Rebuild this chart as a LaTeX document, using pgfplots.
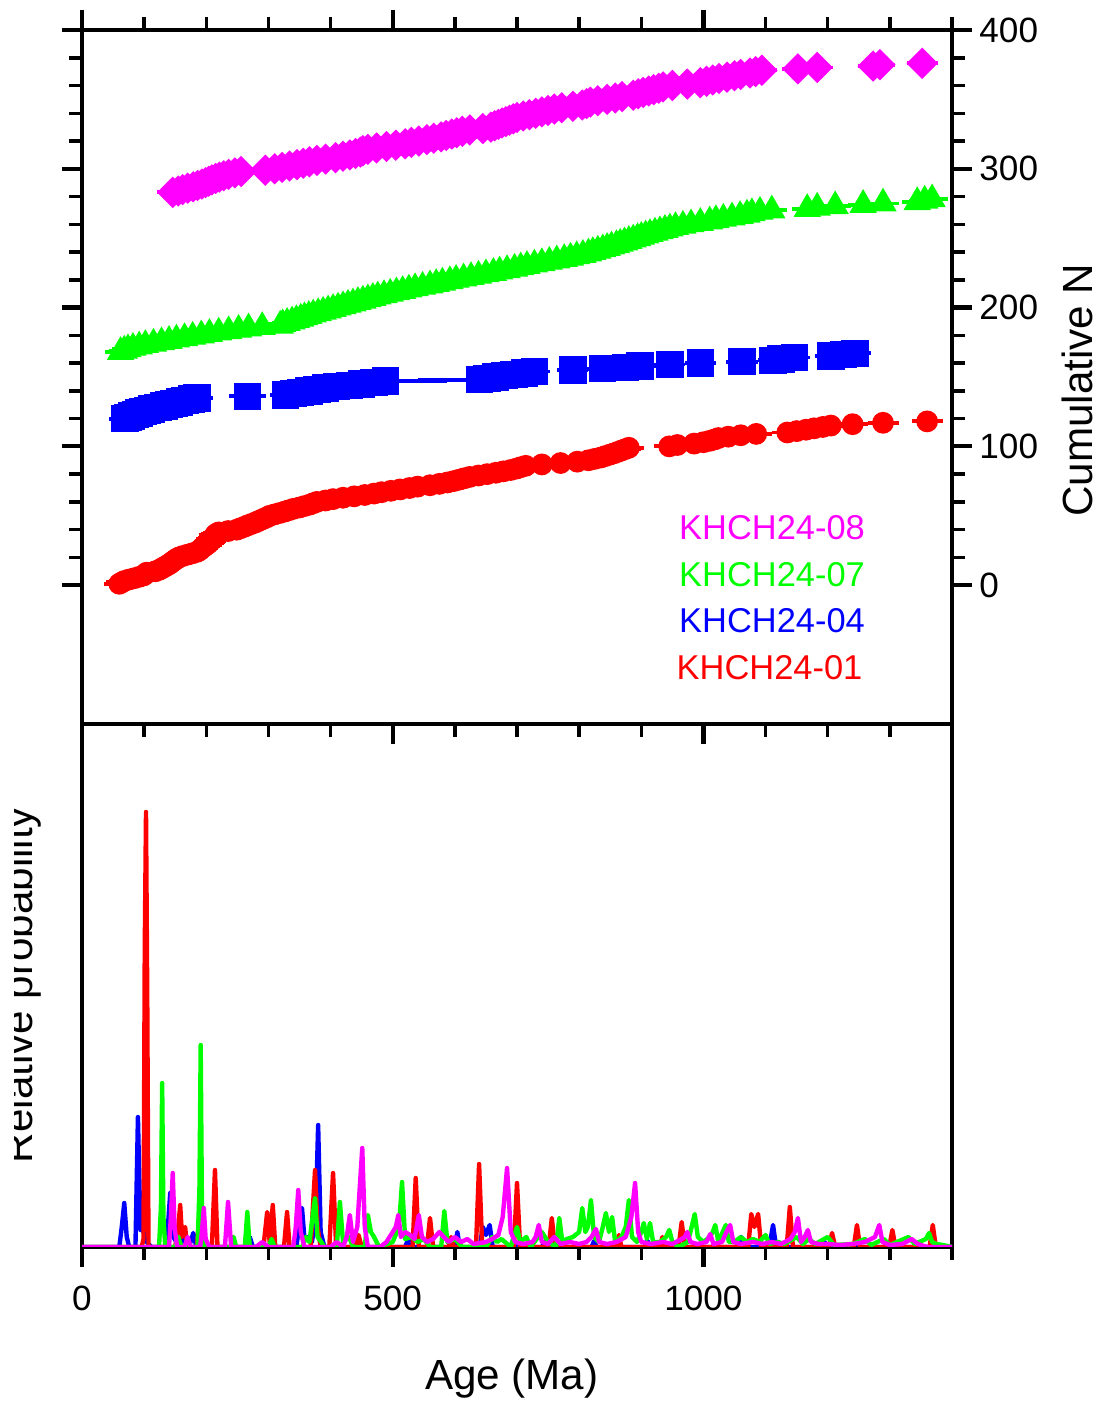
\documentclass[border=0pt]{standalone}
\usepackage{pgfplots}
\pgfplotsset{compat=1.18}
\usepackage{fontspec}
\setmainfont{Liberation Sans}

\definecolor{pRed}{RGB}{255,0,0}
\definecolor{pGreen}{RGB}{0,255,0}
\definecolor{pBlue}{RGB}{0,0,255}
\definecolor{pMag}{RGB}{255,0,255}

\pgfplotsset{
  panel/.style={
    scale only axis, width=8.7cm,
    xmin=0, xmax=1400,
    axis line style={line width=1.2pt},
    tick align=outside,
    major tick length=0.2cm, minor tick length=0.13cm,
    tick style={black, line width=1.2pt},
    minor tick style={line width=1pt},
    xtick={0,500,1000},
    minor xtick={100,200,300,400,600,700,800,900,1100,1200,1300,1400},
    tick label style={font=\fontsize{10}{12}\selectfont},
    /pgf/number format/assume math mode=true,
    /pgf/number format/1000 sep={},
  },
  pdp/.style={line width=1.25pt, line join=round},
}

\begin{document}
\begin{tikzpicture}
\path[use as bounding box] (-0.82,-1.57) rectangle (10.16,12.47);

% ---------- lower panel: probability density ----------
\begin{axis}[panel, height=5.23cm, ymin=0, ymax=523,
  ytick=\empty, xtick pos=bottom,
  xticklabel style={yshift=-0.07cm},
  xlabel={Age (Ma)},
  every axis x label/.style={at={(axis description cs:0.494,-0.273)}, anchor=base,
    font=\fontsize{12}{14}\selectfont},
]
\addplot[pdp, pBlue] coordinates {
 (0,0) (60,0) (64,20) (68,44) (72,10) (76,0) (86,0) (90,130) (94,17) (98,17) (104,5) (112,0)
 (136,0) (142,54) (147,10) (155,2) (161,9) (167,2) (175,5) (179,14) (184,0) (262,0) (266,10)
 (270,10) (275,0) (345,0) (350,25) (354,39) (358,8) (364,10) (370,5) (376,30) (380,122) (384,15)
 (390,0) (440,0) (445,5) (455,0) (520,0) (525,8) (530,0) (600,0) (604,15) (608,0) (640,0) (645,20)
 (650,12) (656,22) (661,0) (690,0) (694,8) (698,0) (740,0) (745,5) (752,0) (820,0) (824,6) (828,0)
 (905,0) (910,6) (915,0) (1055,0) (1061,10) (1066,0) (1106,0) (1112,22) (1117,0) (1190,0)
 (1195,5) (1200,0) (1242,0) (1247,8) (1252,0) (1400,0)};
\addplot[pdp, pRed] coordinates {
 (0,0) (96,0) (99,8) (101,300) (103,435) (105,250) (107,0) (150,0) (155,20) (158,42) (161,10)
 (166,20) (169,0) (185,0) (190,42) (193,0) (209,0) (214,77) (218,0) (240,0) (243,10) (246,0)
 (292,0) (298,35) (302,5) (307,42) (311,0) (325,0) (330,35) (334,0) (368,0) (375,77) (379,20)
 (384,0) (398,0) (404,74) (409,0) (440,0) (445,12) (450,0) (532,0) (537,69) (542,0) (555,0)
 (560,29) (565,0) (590,0) (594,10) (598,0) (634,0) (639,83) (644,0) (695,0) (700,64) (705,0)
 (751,0) (756,29) (761,0) (860,0) (864,12) (868,0) (930,0) (934,10) (938,0) (960,0) (965,25)
 (970,0) (1072,0) (1077,33) (1082,20) (1088,33) (1093,0) (1134,0) (1139,40) (1144,0) (1202,0)
 (1207,14) (1212,0) (1242,0) (1247,22) (1252,0) (1299,0) (1304,17) (1309,0) (1364,0) (1369,22)
 (1374,0) (1400,0)};
\addplot[pdp, pGreen] coordinates {
 (0,0) (124,0) (127,40) (129,164) (131,30) (134,0) (150,0) (155,10) (160,0) (186,0) (189,60)
 (191,202) (193,40) (196,0) (240,0) (244,10) (248,0) (262,0) (266,35) (270,0) (300,0) (305,8)
 (310,0) (355,0) (360,10) (366,5) (371,30) (375,49) (379,10) (385,5) (390,0) (410,0) (415,45)
 (420,5) (430,10) (436,0) (455,0) (460,32) (465,15) (470,10) (478,0) (500,5) (510,20) (515,65)
 (520,8) (530,10) (540,5) (550,8) (560,0) (578,0) (583,36) (588,5) (600,8) (612,0) (650,0)
 (660,10) (668,5) (675,8) (690,0) (700,20) (705,5) (715,10) (722,0) (740,15) (750,5) (763,0)
 (768,29) (773,5) (780,8) (790,10) (800,15) (805,39) (810,15) (814,20) (819,47) (824,10) (832,5)
 (838,20) (843,34) (848,15) (853,30) (858,5) (868,10) (875,20) (880,47) (885,10) (893,5) (900,15)
 (904,24) (909,8) (914,24) (919,5) (930,5) (940,10) (945,17) (950,5) (960,0) (975,5) (981,20)
 (986,33) (991,10) (1000,5) (1010,10) (1015,15) (1019,22) (1024,5) (1031,15) (1036,22) (1041,5)
 (1050,5) (1060,10) (1070,5) (1080,8) (1090,5) (1100,12) (1106,3) (1120,5) (1130,3) (1150,10)
 (1160,3) (1170,8) (1180,3) (1200,10) (1210,2) (1240,3) (1260,8) (1270,2) (1290,8) (1300,2)
 (1330,10) (1340,3) (1358,8) (1363,14) (1368,5) (1375,3) (1385,2) (1400,0)};
\addplot[pdp, pMag] coordinates {
 (0,0) (140,0) (143,30) (146,74) (149,20) (153,0) (165,0) (170,10) (175,0) (190,0) (193,15)
 (196,39) (199,8) (205,0) (230,0) (235,45) (240,0) (280,0) (290,5) (300,0) (340,0) (344,20)
 (348,57) (352,15) (358,0) (400,0) (410,5) (420,0) (426,10) (431,32) (436,5) (443,20) (447,60)
 (451,99) (455,20) (460,0) (480,0) (490,5) (495,10) (500,15) (505,20) (509,32) (513,10) (520,15)
 (528,12) (535,8) (542,32) (547,10) (555,5) (565,8) (575,15) (582,10) (590,5) (600,10) (610,5)
 (620,8) (630,3) (650,5) (660,8) (670,12) (677,30) (684,79) (690,15) (697,5) (710,3) (725,5)
 (730,10) (735,22) (740,5) (750,3) (760,10) (770,3) (785,5) (800,3) (812,5) (820,10) (827,18)
 (832,5) (845,3) (860,5) (875,10) (884,30) (890,64) (895,15) (900,5) (915,3) (935,5) (950,3)
 (965,8) (970,10) (974,15) (979,5) (990,3) (1005,5) (1011,13) (1016,3) (1030,5) (1037,15)
 (1043,22) (1048,5) (1060,3) (1080,5) (1095,3) (1110,5) (1125,3) (1140,8) (1147,15) (1152,29)
 (1157,5) (1163,10) (1168,17) (1173,5) (1185,3) (1200,3) (1220,2) (1240,3) (1260,5) (1276,10)
 (1283,22) (1288,5) (1300,2) (1320,3) (1335,8) (1345,3) (1360,0) (1400,0)};
\end{axis}

% ---------- upper panel: cumulative ages ----------
\begin{axis}[panel, at={(0,5.23cm)}, height=6.94cm, ymin=-100, ymax=400,
  xtick pos=both, xticklabels={},
  ytick={0,100,200,300,400}, minor y tick num=4,
  ytick pos=both, yticklabel pos=right,
  yticklabel style={xshift=-0.05cm},
  ylabel={Cumulative N},
  every axis y label/.style={at={(axis description cs:1.162,0.481)}, rotate=90, anchor=base,
    font=\fontsize{12}{14}\selectfont},
]
% KHCH24-01
\addplot[only marks, mark=*, mark size=2.9pt, color=pRed,
  error bars/.cd, x dir=both, x fixed=25, error mark=none,
  error bar style={line width=1.1pt, pRed}]
  table[row sep=\\]{x y\\
  60 1\\ 64 2\\ 68 3\\ 75 4\\ 84 5\\ 92 6\\ 99 7\\ 102 8\\ 104 9\\ 118 10\\
  124 11\\ 128 12\\ 132 13\\ 136 14\\ 140 15\\ 143 16\\ 146 17\\ 149 18\\ 152 19\\ 156 20\\
  162 21\\ 170 22\\ 178 23\\ 185 24\\ 189 25\\ 191 26\\ 194 27\\ 197 28\\ 200 29\\ 203 30\\
  205 31\\ 207 32\\ 209 33\\ 211 34\\ 213 35\\ 214 36\\ 216 37\\ 220 38\\ 235 39\\ 249 40\\
  255 41\\ 261 42\\ 266 43\\ 272 44\\ 278 45\\ 283 46\\ 288 47\\ 293 48\\ 298 49\\ 302 50\\
  310 51\\ 318 52\\ 326 53\\ 333 54\\ 340 55\\ 350 56\\ 358 57\\ 366 58\\ 372 59\\ 378 60\\
  392 61\\ 404 62\\ 420 63\\ 438 64\\ 455 65\\ 470 66\\ 482 67\\ 497 68\\ 512 69\\ 527 70\\
  540 71\\ 560 72\\ 575 73\\ 588 74\\ 598 75\\ 607 76\\ 615 77\\ 624 78\\ 638 79\\ 652 80\\
  666 81\\ 678 82\\ 690 83\\ 699 84\\ 706 85\\ 714 86\\ 740 87\\ 770 88\\ 797 89\\ 815 90\\
  825 91\\ 835 92\\ 842 93\\ 849 94\\ 856 95\\ 862 96\\ 868 97\\ 874 98\\ 880 99\\ 945 100\\
  958 101\\ 985 102\\ 1000 103\\ 1010 104\\ 1018 105\\ 1024 106\\ 1040 107\\ 1060 108\\ 1085 109\\ 1135 110\\
  1150 111\\ 1165 112\\ 1178 113\\ 1192 114\\ 1205 115\\ 1240 116\\ 1289 117\\ 1360 118\\};
% KHCH24-04
\addplot[only marks, mark=square*, mark size=3.7pt, color=pBlue,
  error bars/.cd, x dir=both, x explicit, error mark=none,
  error bar style={line width=1.1pt, pBlue}]
  table[row sep=\\, x=x, y=y, x error=e]{x y e\\
  69 120 25\\ 74 121 25\\ 80 122 25\\ 86 123 25\\ 92 124 25\\ 98 125 25\\ 105 126 25\\ 112 127 25\\
  122 128 25\\ 132 129 25\\ 140 130 25\\ 148 131 25\\ 157 132 25\\ 166 133 25\\ 176 134 25\\ 185 135 25\\
  266 136 30\\ 327 137 25\\ 340 138 25\\ 352 139 25\\ 365 140 25\\ 378 141 25\\ 392 142 25\\ 410 143 25\\
  430 144 25\\ 450 145 25\\ 470 146 25\\ 488 147 100\\ 640 148 100\\ 652 149 25\\ 665 150 25\\ 680 151 25\\
  695 152 25\\ 712 153 25\\ 728 154 25\\ 790 155 25\\ 838 156 25\\ 875 157 25\\ 898 158 25\\ 946 159 25\\
  995 160 25\\ 1062 161 25\\ 1112 162 25\\ 1125 163 25\\ 1147 164 25\\ 1205 165 25\\ 1225 166 25\\ 1244 167 25\\};
% KHCH24-07
\addplot[only marks, mark=triangle*, mark size=4.1pt, color=pGreen,
  error bars/.cd, x dir=both, x fixed=25, error mark=none,
  error bar style={line width=1.1pt, pGreen}]
  table[row sep=\\]{x y\\
  62 168\\ 68 169\\ 74 170\\ 82 171\\ 92 172\\ 102 173\\ 115 174\\ 128 175\\ 140 176\\ 152 177\\
  165 178\\ 178 179\\ 192 180\\ 205 181\\ 220 182\\ 236 183\\ 252 184\\ 268 185\\ 290 186\\ 319 187\\
  323 188\\ 330 189\\ 338 190\\ 345 191\\ 352 192\\ 358 193\\ 365 194\\ 372 195\\ 380 196\\ 388 197\\
  396 198\\ 404 199\\ 412 200\\ 420 201\\ 428 202\\ 436 203\\ 444 204\\ 452 205\\ 460 206\\ 468 207\\
  476 208\\ 486 209\\ 496 210\\ 506 211\\ 516 212\\ 526 213\\ 536 214\\ 548 215\\ 560 216\\ 570 217\\
  580 218\\ 592 219\\ 602 220\\ 614 221\\ 626 222\\ 638 223\\ 650 224\\ 662 225\\ 672 226\\ 684 227\\
  696 228\\ 706 229\\ 716 230\\ 728 231\\ 740 232\\ 752 233\\ 764 234\\ 776 235\\ 786 236\\ 796 237\\
  806 238\\ 815 239\\ 822 240\\ 830 241\\ 838 242\\ 845 243\\ 852 244\\ 860 245\\ 866 246\\ 873 247\\
  880 248\\ 887 249\\ 894 250\\ 900 251\\ 907 252\\ 914 253\\ 922 254\\ 930 255\\ 938 256\\ 946 257\\
  955 258\\ 967 259\\ 980 260\\ 995 261\\ 1010 262\\ 1020 263\\ 1032 264\\ 1046 265\\ 1059 266\\ 1070 267\\
  1078 268\\ 1091 269\\ 1110 270\\ 1167 271\\ 1183 272\\ 1212 273\\ 1257 274\\ 1289 275\\ 1344 276\\ 1356 277\\
  1368 278\\};
% KHCH24-08
\addplot[only marks, mark=square*, mark options={rotate=45}, mark size=2.95pt, color=pMag,
  error bars/.cd, x dir=both, x fixed=25, error mark=none,
  error bar style={line width=1.1pt, pMag}]
  table[row sep=\\]{x y\\
  146 283\\ 155 284\\ 162 285\\ 170 286\\ 179 287\\ 186 288\\ 193 289\\ 199 290\\ 204 291\\ 209 292\\
  215 293\\ 221 294\\ 228 295\\ 236 296\\ 246 297\\ 256 298\\ 295 299\\ 310 300\\ 322 301\\ 334 302\\
  346 303\\ 356 304\\ 366 305\\ 378 306\\ 392 307\\ 408 308\\ 420 309\\ 431 310\\ 440 311\\ 448 312\\
  452 313\\ 460 314\\ 474 315\\ 490 316\\ 505 317\\ 520 318\\ 530 319\\ 542 320\\ 555 321\\ 566 322\\
  578 323\\ 586 324\\ 595 325\\ 603 326\\ 612 327\\ 624 328\\ 645 329\\ 658 330\\ 664 331\\ 670 332\\
  676 333\\ 682 334\\ 688 335\\ 694 336\\ 700 337\\ 710 338\\ 720 339\\ 730 340\\ 740 341\\ 750 342\\
  760 343\\ 772 344\\ 790 345\\ 805 346\\ 812 347\\ 818 348\\ 830 349\\ 845 350\\ 858 351\\ 869 352\\
  887 353\\ 895 354\\ 903 355\\ 912 356\\ 920 357\\ 928 358\\ 935 359\\ 950 360\\ 974 361\\ 995 362\\
  1005 363\\ 1015 364\\ 1025 365\\ 1038 366\\ 1050 367\\ 1060 368\\ 1075 369\\ 1084 370\\ 1094 371\\ 1152 372\\
  1183 373\\ 1273 374\\ 1284 375\\ 1352 376\\};

\node[anchor=base west, text=pMag, font=\fontsize{9.8}{12}\selectfont] at (axis cs:941,33) {KHCH24-08};
\node[anchor=base west, text=pGreen, font=\fontsize{9.8}{12}\selectfont] at (axis cs:941,-0.7) {KHCH24-07};
\node[anchor=base west, text=pBlue, font=\fontsize{9.8}{12}\selectfont] at (axis cs:941,-33.8) {KHCH24-04};
\node[anchor=base west, text=pRed, font=\fontsize{9.8}{12}\selectfont] at (axis cs:937,-67.6) {KHCH24-01};
\end{axis}

% y label of the lower panel, cut at the left edge as in the original
\begin{scope}
\clip (-0.67,0) rectangle (0,5.23);
\node[rotate=90, anchor=base, font=\fontsize{12}{14}\selectfont] at (-0.49,2.62) {Relative probability};
\end{scope}
\end{tikzpicture}
\end{document}
